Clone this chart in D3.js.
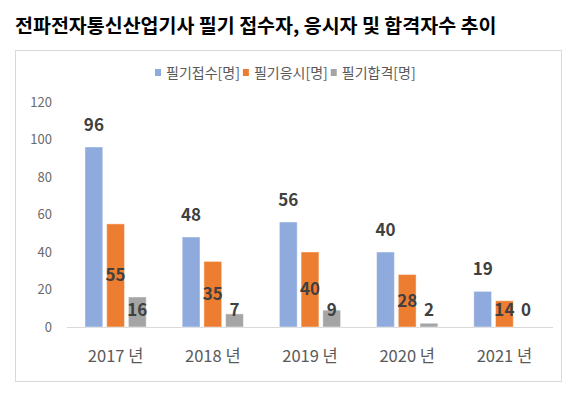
<!DOCTYPE html>
<html>
<head>
<meta charset="utf-8">
<script src="https://cdn.jsdelivr.net/npm/d3@7"></script>
<style>
  body { margin: 0; background: #fff; }
  text { font-family: "Noto Sans CJK KR", "Noto Sans", sans-serif; }
</style>
</head>
<body>
<div id="chart"></div>
<script>
// data
const years = ["2017 년", "2018 년", "2019 년", "2020 년", "2021 년"];
const seriesNames = ["필기접수[명]", "필기응시[명]", "필기합격[명]"];
const applied = [96, 48, 56, 40, 19];
const tested = [55, 35, 40, 28, 14];
const passed = [16, 7, 9, 2, 0];
const yTicks = [0, 20, 40, 60, 80, 100, 120];
const colors = ["#8FAADC", "#ED7D31", "#A5A5A5"];

const W = 586, H = 395;
const svg = d3.select("#chart").append("svg")
    .attr("width", W)
    .attr("height", H);

// title
svg.append("text")
    .attr("x", 15)
    .attr("y", 33)
    .attr("font-size", 19.5)
    .attr("font-weight", "bold")
    .attr("fill", "#000")
    .text("전파전자통신산업기사 필기 접수자, 응시자 및 합격자수 추이");

// chart border
svg.append("rect")
    .attr("x", 15.5).attr("y", 50.5)
    .attr("width", 546).attr("height", 331)
    .attr("fill", "none")
    .attr("stroke", "#d9d9d9");

// scales
const x0 = d3.scaleBand()
    .domain(years)
    .range([67, 553])
    .paddingInner(0.37)
    .paddingOuter(0.185);

const x1 = d3.scaleBand()
    .domain(d3.range(3))
    .range([0, x0.bandwidth()])
    .paddingInner(0.18);

const y = d3.scaleLinear()
    .domain([0, 120])
    .range([327, 102]);

// y axis labels (no line, no ticks)
const yAxis = svg.append("g")
    .attr("transform", "translate(52,0)")
    .call(d3.axisLeft(y).tickValues(yTicks).tickSize(0).tickPadding(0));
yAxis.select(".domain").remove();
yAxis.selectAll("text")
    .attr("font-size", 13)
    .attr("fill", "#6a6a6a")
    .style("font-family", "\"Noto Sans CJK KR\", sans-serif");

// x axis baseline + category labels
const xAxis = svg.append("g")
    .attr("transform", `translate(0,${y(0)})`)
    .call(d3.axisBottom(x0).tickSize(0).tickPadding(23));
xAxis.select(".domain")
    .attr("stroke", "#d9d9d9")
    .attr("d", "M67,0.5H553");
xAxis.selectAll("text")
    .attr("font-size", 16.5)
    .attr("fill", "#595959")
    .style("font-family", "\"Noto Sans CJK KR\", sans-serif");

// bars
const rows = years.map((yr, i) => ({ year: yr, vals: [applied[i], tested[i], passed[i]] }));

const groups = svg.append("g").selectAll("g")
  .data(rows)
  .join("g")
    .attr("transform", d => `translate(${x0(d.year)},0)`);

groups.selectAll("rect")
  .data(d => d.vals.map((v, k) => ({ k: k, v: v })))
  .join("rect")
    .attr("x", d => x1(d.k))
    .attr("y", d => y(d.v))
    .attr("width", x1.bandwidth())
    .attr("height", d => y(0) - y(d.v))
    .attr("fill", d => colors[d.k])
    .attr("stroke", "#fff")
    .attr("stroke-opacity", 0.45)
    .attr("stroke-width", 1);

// data labels: first series above the bar, the others centred inside
groups.selectAll("text.lbl")
  .data(d => d.vals.map((v, k) => ({ k: k, v: v })))
  .join("text")
    .attr("class", "lbl")
    .attr("x", d => x1(d.k) + x1.bandwidth() / 2)
    .attr("y", d => {
      if (d.k === 0) return y(d.v) - 22;
      const mid = (y(d.v) + y(0)) / 2;
      return Math.min(mid, y(0) - 17);
    })
    .attr("dy", "0.35em")
    .attr("text-anchor", "middle")
    .attr("font-size", 17)
    .attr("font-weight", "bold")
    .attr("fill", "#404040")
    .text(d => d.v);

// legend
const legend = svg.append("g").attr("transform", "translate(0,73)");
let lx = 155;
seriesNames.forEach((name, k) => {
  legend.append("rect")
      .attr("x", lx).attr("y", -4)
      .attr("width", 6).attr("height", 7)
      .attr("fill", colors[k]);
  const t = legend.append("text")
      .attr("x", lx + 11)
      .attr("y", 0)
      .attr("dy", "0.35em")
      .attr("font-size", 14)
      .attr("fill", "#595959")
      .text(name);
  lx += 11 + t.node().getComputedTextLength() + 3;
});
</script>
</body>
</html>
